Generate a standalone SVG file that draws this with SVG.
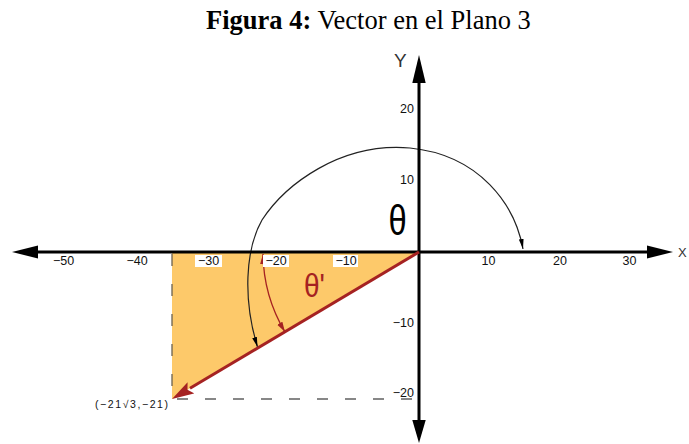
<svg xmlns="http://www.w3.org/2000/svg" width="689" height="444" viewBox="0 0 689 444">
<style>
.tick{font-family:"Liberation Sans",Arial,sans-serif;font-size:12.5px;fill:#111}
.tm{text-anchor:middle}
.te{text-anchor:end}
.axis{stroke:#000;stroke-width:3;fill:none}
.lbl{fill:#fff}
</style>
<defs>
<marker id="ah" viewBox="0 0 10 6" refX="10" refY="3" markerWidth="10" markerHeight="6" markerUnits="userSpaceOnUse" orient="auto-start-reverse">
<path d="M0,0.6 L10,3 L0,5.4 z" fill="#000"/>
</marker>
<marker id="rh" viewBox="0 0 10 7" refX="10" refY="3.5" markerWidth="10" markerHeight="7" markerUnits="userSpaceOnUse" orient="auto-start-reverse">
<path d="M0,0.5 L10,3.5 L0,6.5 z" fill="#a52222"/>
</marker>
<marker id="vh" viewBox="0 0 22 13" refX="22" refY="6.5" markerWidth="22" markerHeight="13" markerUnits="userSpaceOnUse" orient="auto">
<path d="M0,0 L22,6.5 L0,13 L4,6.5 z" fill="#a52222"/>
</marker>
</defs>
<rect width="689" height="444" fill="#fff"/>
<g id="title">
<text x="206" y="29" font-family="Liberation Serif,Times New Roman,serif" font-size="26.5" fill="#000"><tspan font-weight="bold">Figura 4:</tspan> Vector en el Plano 3</text>
</g>
<g id="region">
<polygon points="172,252 419,252 172,399" fill="#fdc96a"/>
</g>
<g id="connectors">
<line x1="172" y1="254" x2="172" y2="399" stroke="#6b6150" stroke-width="1.3" stroke-dasharray="12,18"/>
<line x1="177" y1="399" x2="419" y2="399" stroke="#111" stroke-width="1.2" stroke-dasharray="11,17"/>
<path d="M523 249 C515 205 480 155 410 148 C340 142 285 185 262 220 C245 250 243 300 257.5 347" fill="none" stroke="#222" stroke-width="1.2" marker-start="url(#ah)" marker-end="url(#ah)"/>
<path d="M263 254 A156 156 0 0 0 284.9 331.8" fill="none" stroke="#a52222" stroke-width="1.3" marker-start="url(#rh)" marker-end="url(#rh)"/>
</g>
<g id="axes">
<line class="axis" x1="37" y1="252" x2="648" y2="252"/>
<polygon points="12,252 38,245.5 38,258.5" fill="#000"/>
<polygon points="673,252 647,245.5 647,258.5" fill="#000"/>
<line class="axis" x1="419" y1="82" x2="419" y2="421"/>
<polygon points="419,55 412.3,83 425.7,83" fill="#000"/>
<polygon points="419,443 412.3,420 425.7,420" fill="#000"/>
</g>
<g id="vector">
<line x1="419" y1="252" x2="190" y2="388.3" stroke="#a52222" stroke-width="3"/>
<line x1="191" y1="387.7" x2="172" y2="399" stroke="none" marker-end="url(#vh)"/>
</g>
<g id="labels-x">
<rect class="lbl" x="195" y="255" width="27" height="12"/>
<rect class="lbl" x="263" y="255" width="26" height="12"/>
<rect class="lbl" x="333" y="255" width="25" height="12"/>
<text class="tick tm" x="63.5" y="265">−50</text>
<text class="tick tm" x="137" y="265">−40</text>
<text class="tick tm" x="208.5" y="265">−30</text>
<text class="tick tm" x="276" y="265">−20</text>
<text class="tick tm" x="346" y="265">−10</text>
<text class="tick tm" x="488.5" y="265">10</text>
<text class="tick tm" x="560" y="265">20</text>
<text class="tick tm" x="629.5" y="265">30</text>
</g>
<g id="labels-y">
<text class="tick te" x="414" y="113">20</text>
<text class="tick te" x="414" y="184">10</text>
<text class="tick te" x="414" y="327">−10</text>
<text class="tick te" x="414" y="397">−20</text>
</g>
<g id="axis-names">
<text x="394" y="67" font-family="Liberation Sans,Arial,sans-serif" font-size="19" fill="#333">Y</text>
<text x="678" y="257" font-family="Liberation Sans,Arial,sans-serif" font-size="13" fill="#333">X</text>
</g>
<g id="theta">
<text x="0" y="0" transform="translate(397.5 235) scale(0.78 1)" text-anchor="middle" font-family="Liberation Sans,Arial,sans-serif" font-size="42" fill="#000">θ</text>
</g>
<g id="theta-prime">
<text x="0" y="0" transform="translate(304 297) scale(0.85 1)" font-family="Liberation Sans,Arial,sans-serif" font-size="33" fill="#a52222">θ'</text>
</g>
<g id="point">
<text x="95" y="408" font-family="Liberation Sans,Arial,sans-serif" font-size="10.5" fill="#111" textLength="73" lengthAdjust="spacing">(−21√3,−21)</text>
</g>
</svg>
